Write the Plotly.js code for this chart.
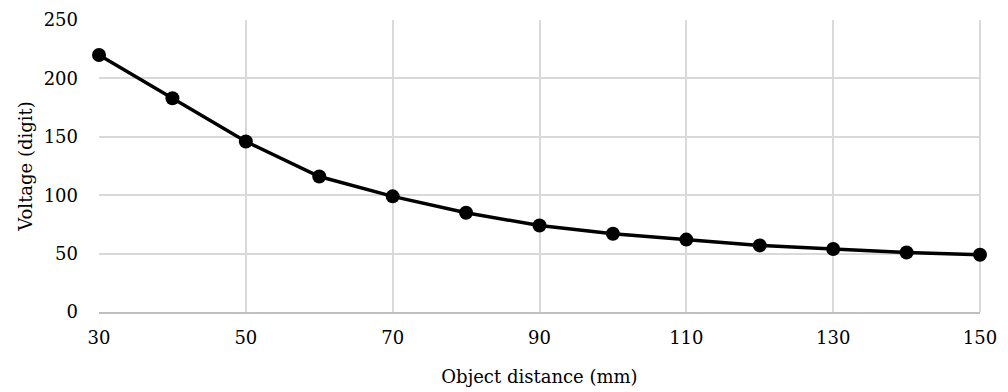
<!DOCTYPE html>
<html>
<head>
<meta charset="utf-8">
<script src="https://cdn.plot.ly/plotly-3.0.1.min.js"></script>
<style>html,body{margin:0;padding:0;background:#fff;}#chart{width:1008px;height:392px;}</style>
</head>
<body>
<div id="chart"></div>
<script>
const distance = [30, 40, 50, 60, 70, 80, 90, 100, 110, 120, 130, 140, 150];
const voltage = [220, 183, 146, 116, 99, 85, 74, 67, 62, 57, 54, 51, 49];
const xTicks = [30, 50, 70, 90, 110, 130, 150];
const yTicks = [0, 50, 100, 150, 200, 250];

const font = {family: 'DejaVu Serif, Liberation Serif, serif', size: 18, color: '#000'};

Plotly.newPlot('chart', [{
  x: distance,
  y: voltage,
  type: 'scatter',
  mode: 'lines+markers',
  line: {color: '#000', width: 3.5},
  marker: {color: '#000', size: 14},
  cliponaxis: false,
  showlegend: false
}], {
  width: 1008, height: 392,
  margin: {l: 99, r: 28, t: 20, b: 80},
  paper_bgcolor: '#fff', plot_bgcolor: '#fff',
  font: font,
  xaxis: {
    range: [30, 150], tickvals: xTicks, ticktext: xTicks.map(String),
    showgrid: true, gridcolor: '#d9d9d9', gridwidth: 2,
    zeroline: false, showline: true, linecolor: '#bfbfbf', linewidth: 2,
    ticks: '', ticklabelstandoff: 8, tickfont: font,
    title: {text: 'Object distance (mm)', font: font, standoff: 24}
  },
  yaxis: {
    range: [0, 250], tickvals: yTicks, ticktext: yTicks.map(String),
    showgrid: true, gridcolor: '#d9d9d9', gridwidth: 2,
    zeroline: false, showline: false,
    ticks: '', ticklabelstandoff: 20, tickfont: font,
    title: {text: 'Voltage (digit)', font: font, standoff: 6}
  },
  shapes: [{type: 'line', xref: 'paper', yref: 'paper', x0: 1, x1: 1, y0: 0, y1: 1, line: {color: '#d9d9d9', width: 2}, layer: 'below'}]
}, {displayModeBar: false, staticPlot: true});
</script>
</body>
</html>
